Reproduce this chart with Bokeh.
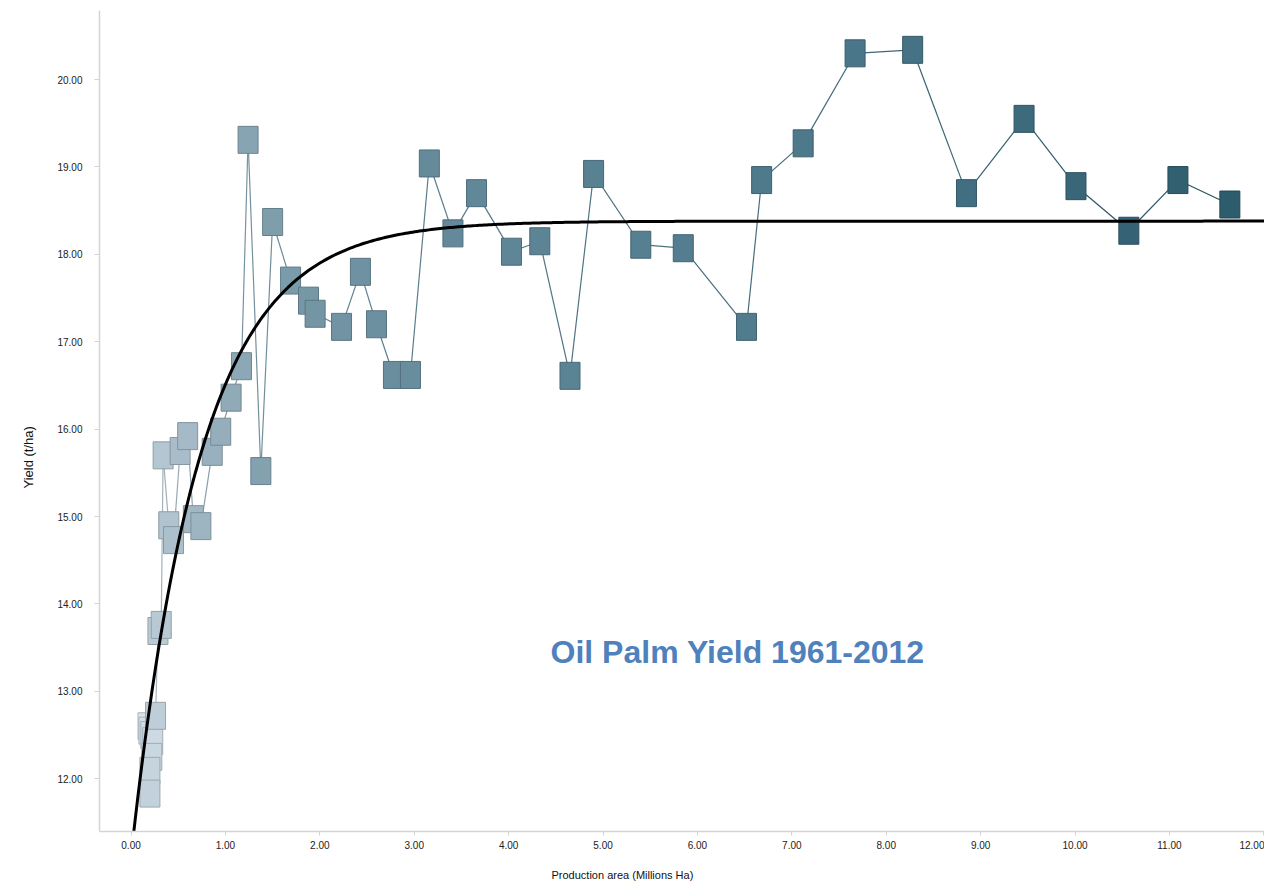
import numpy as np
from bokeh.plotting import figure
from bokeh.models import Range1d, FixedTicker, NumeralTickFormatter, Label, Title, ColumnDataSource
from bokeh.embed import file_html
from bokeh.resources import INLINE

# Oil palm production area (millions ha) and yield (t/ha), 1961-2012, in year order
years = list(range(1961, 2013))
area = [0.18, 0.19, 0.21, 0.23, 0.22, 0.20, 0.20, 0.26,
        0.285, 0.32, 0.34, 0.40, 0.45, 0.52, 0.60, 0.66, 0.74, 0.86,
        0.95, 1.06, 1.17, 1.24, 1.375, 1.50, 1.69, 1.88, 1.95, 2.23,
        2.43, 2.60, 2.78, 2.96, 3.16, 3.41, 3.66, 4.03, 4.33, 4.65,
        4.90, 5.40, 5.85, 6.52, 6.68, 7.12, 7.67, 8.28, 8.85, 9.46,
        10.01, 10.57, 11.09, 11.64]
yields = [12.60, 12.55, 12.50, 12.43, 12.25, 12.09, 11.83, 12.72,
          13.69, 13.76, 15.70, 14.90, 14.73, 15.75, 15.92, 14.97, 14.89, 15.74,
          15.97, 16.36, 16.72, 19.31, 15.52, 18.37, 17.70, 17.47, 17.32, 17.17,
          17.80, 17.20, 16.62, 16.62, 19.04, 18.24, 18.70, 18.03, 18.15, 16.61,
          18.92, 18.11, 18.07, 17.17, 18.85, 19.27, 20.30, 20.34, 18.70, 19.55,
          18.78, 18.27, 18.85, 18.57]

x_ticks = list(range(0, 13))
y_ticks = list(range(12, 21))

title_text = "Oil Palm Yield 1961-2012"
x_label = "Production area (Millions Ha)"
y_label = "Yield (t/ha)"

# saturating fit: yield = a - b * exp(-k * area)
fit_a, fit_b, fit_k = 18.38, 7.27, 1.359

# colour ramp from early (light) to late (dark) years
stops = [(0.0, (216, 227, 235)), (0.3, (160, 182, 195)), (0.5, (116, 150, 165)),
         (0.85, (76, 120, 138)), (1.0, (45, 92, 109))]


def ramp(t):
    for (t0, c0), (t1, c1) in zip(stops[:-1], stops[1:]):
        if t <= t1:
            f = (t - t0) / (t1 - t0)
            return tuple(int(round(a + (b - a) * f)) for a, b in zip(c0, c1))
    return stops[-1][1]


def hexc(c, scale=1.0):
    return "#%02x%02x%02x" % tuple(max(0, min(255, int(v * scale))) for v in c)


n = len(area)
base = [ramp(i / (n - 1)) for i in range(n)]
fills = [hexc(c) for c in base]
borders = [hexc(c, 0.8) for c in base]
seg_colors = [hexc(c, 0.9) for c in base[1:]]

FONT = "'Liberation Sans Narrow', 'Arial Narrow', 'Liberation Sans', sans-serif"

p = figure(width=1264, height=895, output_backend="svg", toolbar_location=None,
           x_range=Range1d(-0.334, 12.007), y_range=Range1d(11.396, 20.79),
           min_border_left=99, min_border_right=0, min_border_top=10, min_border_bottom=64)
p.outline_line_color = None
p.grid.visible = False
p.background_fill_color = "white"

for ax in (p.xaxis[0], p.yaxis[0]):
    ax.axis_line_color = "#d4d4d4"
    ax.axis_line_width = 1.5
    ax.major_tick_line_color = "#d4d4d4"
    ax.minor_tick_line_color = None
    ax.major_tick_in = 0
    ax.major_label_text_font = FONT
    ax.major_label_text_font_size = "10px"
    ax.major_label_text_color = "#222222"
    ax.formatter = NumeralTickFormatter(format="0.00")

p.xaxis.ticker = FixedTicker(ticks=x_ticks)
p.yaxis.ticker = FixedTicker(ticks=y_ticks)
p.xaxis.major_tick_out = 4
p.xaxis.major_label_standoff = 5
p.yaxis.major_tick_out = 5
p.yaxis.major_label_standoff = 12

src = ColumnDataSource(dict(x=area, y=yields, year=years, fill=fills, border=borders))

# year-to-year path
p.segment(x0=area[:-1], y0=yields[:-1], x1=area[1:], y1=yields[1:],
          line_color=seg_colors, line_width=1.2)

# one box per year
p.rect(x="x", y="y", width=20, height=27, width_units="screen", height_units="screen",
       fill_color="fill", line_color="border", line_width=1, source=src)

# fitted curve
xs = np.linspace(0.0, 12.2, 500)
p.line(xs, fit_a - fit_b * np.exp(-fit_k * xs), line_color="black", line_width=3)

p.add_layout(Label(x=4.444, y=13.45, text=title_text, text_font="Liberation Sans",
                   text_font_style="bold", text_font_size="32px", text_color="#4f81bd",
                   text_baseline="alphabetic", text_align="left"))

# axis captions, set off-centre along their axes
p.add_layout(Title(text=x_label, align="left", offset=452, standoff=30, vertical_align="bottom",
                   text_font=FONT, text_font_size="11px", text_font_style="normal",
                   text_color="#111111"), "below")
p.add_layout(Title(text=y_label, align="left", offset=343, standoff=37, vertical_align="bottom",
                   text_font="Liberation Sans", text_font_size="13px", text_font_style="normal",
                   text_color="#111111"), "left")

open("out.html", "w").write(file_html(p, INLINE))
